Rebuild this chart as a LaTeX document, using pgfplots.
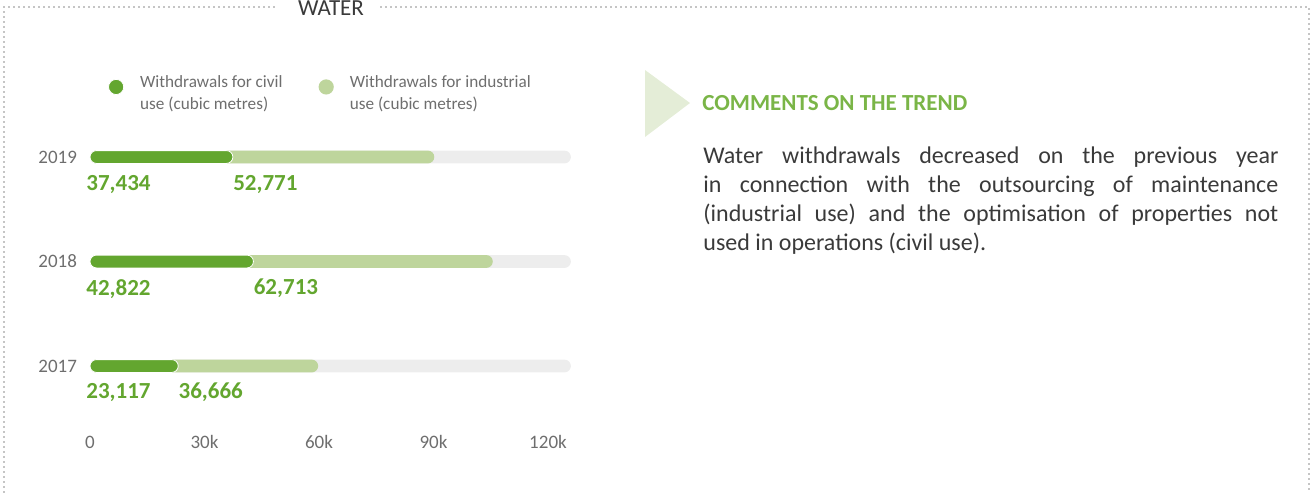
\documentclass[border=0pt]{standalone}
\usepackage{pgfplots}
\pgfplotsset{compat=1.18}
\usepackage{pgfplotstable}
\usepackage{fontspec}
\setmainfont{Carlito}

\definecolor{civil}{HTML}{63A62F}
\definecolor{indus}{HTML}{BED59C}
\definecolor{track}{HTML}{EDEDED}
\definecolor{txtgray}{HTML}{6E6E6E}
\definecolor{bodygray}{HTML}{3A3A3A}
\definecolor{headgreen}{HTML}{7AB547}
\definecolor{arrowgreen}{HTML}{E4EDD7}
\definecolor{framegray}{HTML}{8A8A8A}

% water withdrawals, cubic metres
\pgfplotstableread{
year civil industrial track
2017 23117 36666 126000
2018 42822 62713 126000
2019 37434 52771 126000
}\water

\begin{document}
\begin{tikzpicture}
% page in pixel units of the reference (1px = 0.5pt, y downwards)
\begin{scope}[x=0.5pt,y=-0.5pt]
\useasboundingbox (0,0) rectangle (1313,493);
% dotted frame
\begin{scope}[framegray, line width=0.8pt, line cap=round, dash pattern=on 0pt off 2.5pt]
\draw (274,7) -- (4,7) -- (4,493);
\draw (381,7) -- (1309,7) -- (1309,493);
\end{scope}
\node[anchor=base, inner sep=0pt, text=bodygray, font=\fontsize{11.5}{13}\selectfont] at (331,15) {WATER};
% comments block
\fill[arrowgreen] (645,70) -- (690,103) -- (645,137) -- cycle;
\node[anchor=west, inner sep=0pt, text=headgreen, font=\bfseries\fontsize{11.5}{13}\selectfont]
  at (702,103) {COMMENTS ON THE TREND};
\node[anchor=north west, inner sep=0pt, text width=287.5pt, align=justify,
  text=bodygray, font=\fontsize{12}{14.5}\selectfont] at (703,146)
  {Water withdrawals decreased on the previous year\linebreak
   in connection with the outsourcing of maintenance\linebreak
   (industrial use) and the optimisation of properties not\linebreak
   used in operations (civil use).};
\end{scope}

\begin{axis}[
  at={(45pt,-214.35pt)}, anchor=south west,
  scale only axis, width=229pt, height=146.3pt,
  xmin=0, xmax=120000, ymin=2016.4, ymax=2019.2,
  xbar, bar width=6.4pt, bar shift=0pt,
  axis line style={draw=none}, major tick length=0pt,
  xtick={0,30000,60000,90000,120000}, xticklabels={0,30k,60k,90k,120k},
  ytick={2017,2018,2019}, yticklabels={2017,2018,2019},
  scaled x ticks=false,
  ticklabel style={font=\fontsize{9.5}{11}\selectfont, text=txtgray},
  yticklabel style={xshift=-3pt},
  clip=false,
  reverse legend,
  legend columns=2,
  legend image code/.code={\fill (0pt,0pt) circle (3.8pt); \path (9.8pt,0pt);},
  legend style={at={(0.0256,1.168)}, anchor=west, draw=none, fill=none,
    font=\fontsize{8.6}{11}\selectfont, text=txtgray,
    /tikz/every even column/.append style={column sep=16pt}},
]
\addplot[fill=track, draw=none, rounded corners=3.2pt, forget plot]
  table[x=track, y=year] {\water};
\addplot[fill=indus, draw=none, rounded corners=3.2pt]
  table[x expr=\thisrow{civil}+\thisrow{industrial}, y=year] {\water};
\addlegendentry{\begin{tabular}{@{}l@{}}Withdrawals for industrial\\use (cubic metres)\end{tabular}}
\addplot[fill=civil, draw=white, line width=0.4pt, rounded corners=3.2pt]
  table[x=civil, y=year] {\water};
\addlegendentry{\begin{tabular}{@{}l@{}}Withdrawals for civil\\use (cubic metres)\end{tabular}}

\begin{scope}[every node/.style={anchor=west, inner sep=0pt, text=civil,
    font=\bfseries\fontsize{11.5}{12}\selectfont}]
\node[xshift=-2pt] at (axis cs:0,2018.74) {37,434};
\node at (axis cs:37434,2018.74) {52,771};
\node[xshift=-2pt] at (axis cs:0,2017.74) {42,822};
\node at (axis cs:42822,2017.74) {62,713};
\node[xshift=-2pt] at (axis cs:0,2016.75) {23,117};
\node at (axis cs:23117,2016.75) {36,666};
\end{scope}
\end{axis}
\end{tikzpicture}
\end{document}
